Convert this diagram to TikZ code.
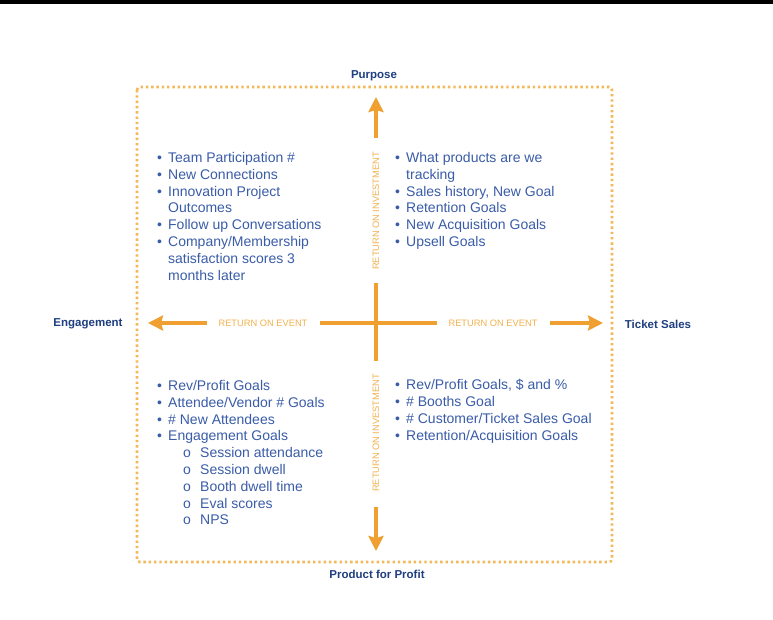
\documentclass[tikz,border=0pt]{standalone}
\usepackage{fontspec}
\setmainfont{Liberation Sans}
\usetikzlibrary{arrows.meta}
\definecolor{roeorange}{HTML}{F0A030}
\definecolor{roetext}{HTML}{F2B24E}
\definecolor{boxdots}{HTML}{F3B85A}
\definecolor{itemblue}{HTML}{3A5CA8}
\definecolor{axisnavy}{HTML}{1F3F80}
\newcommand{\bul}{\makebox[11pt][l]{\textbullet}}
\newcommand{\cont}{\hspace*{11pt}}
\newcommand{\subbul}{\hspace*{26pt}\makebox[17pt][l]{o}}
\begin{document}
\begin{tikzpicture}[x=1pt,y=-1pt,
  axislabel/.style={font=\fontsize{11.5}{13}\bfseries\selectfont,text=axisnavy,inner sep=0pt},
  roelabel/.style={font=\fontsize{9.3}{11}\selectfont,text=roetext,inner sep=0pt},
  goallist/.style={font=\fontsize{14}{16.8}\selectfont,text=itemblue,align=left,inner sep=0pt,anchor=base west},
  roeline/.style={draw=roeorange,line width=4pt},
  roearrow/.style={roeline,-{Stealth[length=15pt,width=15pt,inset=2pt]}}]
\useasboundingbox (0,0) rectangle (773,619);
\fill[white] (0,0) rectangle (773,619);
\fill[black] (0,0) rectangle (773,4);
\draw[boxdots,line width=2.6pt,dash pattern=on 2.4pt off 2.9pt,rounded corners=3pt] (137,87) rectangle (612,562);
\coordinate (c) at (376,323);
\node[axislabel] (purpose) at (374,76) {Purpose};
\node[axislabel] (profit) at (377,574) {Product for Profit};
\node[axislabel] (engage) at (88,324) {Engagement};
\node[axislabel] (tickets) at (658,324) {Ticket Sales};
\node[roelabel] (roeW) at (263,323) {RETURN ON EVENT};
\node[roelabel] (roeE) at (493,323) {RETURN ON EVENT};
\node[roelabel,rotate=90] (roiN) at (376,211) {RETURN ON INVESTMENT};
\node[roelabel,rotate=90] (roiS) at (376,433) {RETURN ON INVESTMENT};
\coordinate (w1) at (320,323);
\coordinate (w2) at (207,323);
\coordinate (wtip) at (148,323);
\coordinate (e1) at (437,323);
\coordinate (e2) at (550,323);
\coordinate (etip) at (603,323);
\coordinate (n1) at (376,283);
\coordinate (n2) at (376,138);
\coordinate (ntip) at (376,97);
\coordinate (s1) at (376,361);
\coordinate (s2) at (376,507);
\coordinate (stip) at (376,551);
\draw[roeline] (w1) -- (e1);
\draw[roeline] (n1) -- (s1);
\draw[roearrow] (w2) -- (wtip);
\draw[roearrow] (e2) -- (etip);
\draw[roearrow] (n2) -- (ntip);
\draw[roearrow] (s2) -- (stip);
\node[goallist] (nw) at (157,280.1) {\bul Team Participation \#\\
  \bul New Connections\\
  \bul Innovation Project\\
  \cont Outcomes\\
  \bul Follow up Conversations\\
  \bul Company/Membership\\
  \cont satisfaction scores 3\\
  \cont months later};
\node[goallist] (ne) at (395,246.5) {\bul What products are we\\
  \cont tracking\\
  \bul Sales history, New Goal\\
  \bul Retention Goals\\
  \bul New Acquisition Goals\\
  \bul Upsell Goals};
\node[goallist] (sw) at (157,524.9) {\bul Rev/Profit Goals\\
  \bul Attendee/Vendor \# Goals\\
  \bul \# New Attendees\\
  \bul Engagement Goals\\
  \subbul Session attendance\\
  \subbul Session dwell\\
  \subbul Booth dwell time\\
  \subbul Eval scores\\
  \subbul NPS};
\node[goallist] (se) at (395,440.2) {\bul Rev/Profit Goals, \$ and \%\\
  \bul \# Booths Goal\\
  \bul \# Customer/Ticket Sales Goal\\
  \bul Retention/Acquisition Goals};
\end{tikzpicture}
\end{document}
